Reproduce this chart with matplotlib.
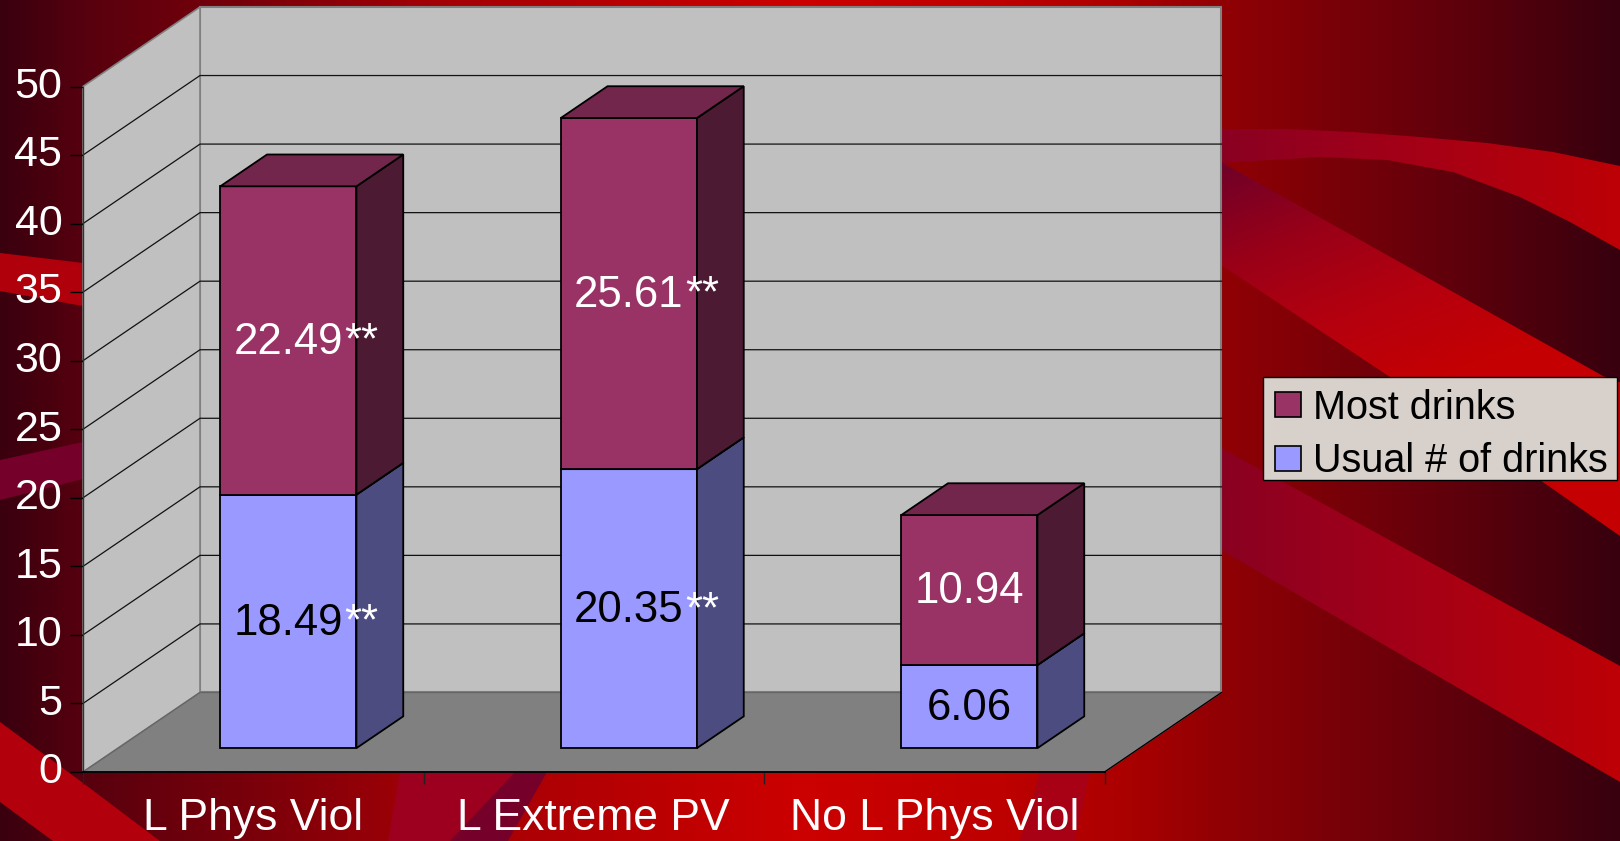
import numpy as np
import matplotlib
matplotlib.use("Agg")
import matplotlib.pyplot as plt
from matplotlib.colors import LinearSegmentedColormap
from matplotlib.patches import Polygon, Patch, Rectangle
from matplotlib.transforms import ScaledTranslation

plt.rcParams['font.family'] = ['Liberation Sans', 'DejaVu Sans']

categories = ["L Phys Viol", "L Extreme PV", "No L Phys Viol"]
usual = [18.49, 20.35, 6.06]
most = [22.49, 25.61, 10.94]
usual_stars = ["**", "**", ""]
most_stars = ["**", "**", ""]
y_ticks = [0, 5, 10, 15, 20, 25, 30, 35, 40, 45, 50]

W, H = 1620, 841
# fake 3d depth of the chart, in data units
DX = 0.3436
DY = 5.8
GAP = 0.3
BAR_W = 0.4
BAR_D = 0.4

MAGENTA = ("#993366", "#4C1A33", "#72264C")
BLUE = ("#9999FF", "#4C4C80", "#72729F")

fig = plt.figure(figsize=(W / 100, H / 100), dpi=100)

# slide background, pixel coordinates
bg = fig.add_axes([0, 0, 1, 1])
bg.set_xlim(0, W)
bg.set_ylim(H, 0)
bg.axis("off")


def ramp(stops):
    return LinearSegmentedColormap.from_list("r", [(p / W, c) for p, c in stops])


def stripe(cmap, clip=None, grad=None):
    if grad is None:
        grad = np.linspace(0, 1, 810).reshape(1, -1)
    im = bg.imshow(grad, cmap=cmap, extent=(0, W, H, 0), aspect="auto", vmin=0, vmax=1)
    if clip is not None:
        p = Polygon(clip, closed=True, transform=bg.transData, fc="none", ec="none")
        bg.add_patch(p)
        im.set_clip_path(p)


stripe(ramp([(0, "#3A000E"), (85, "#58000E"), (250, "#7A000A"), (420, "#A00006"),
             (800, "#CC0000"), (1000, "#BE0000"), (1120, "#AC0000"), (1225, "#900004"),
             (1400, "#6C000A"), (1620, "#38000E")]))

band_cmap = ramp([(0, "#B0000C"), (1225, "#8A0022"), (1400, "#A20018"), (1620, "#BC0006")])

# this band shades across its width as well as along it
px, py = np.meshgrid(np.arange(0, W, 2), np.arange(0, H, 2))
diag = np.clip(((px - 1221) + (py - 165) * 2.5) / 760, 0, 1)
stripe(LinearSegmentedColormap.from_list("d", ["#700028", "#990018", "#B5000F", "#C40002"]),
       [(1221, 162), (1603, 376), (1640, 390), (1640, 550), (1540, 480), (1390, 377), (1221, 265)],
       grad=diag)
stripe(band_cmap,
       [(1221, 129), (1287, 129), (1353, 132), (1420, 137), (1487, 143), (1553, 152), (1620, 166),
        (1620, 250), (1570, 222), (1520, 197), (1453, 172), (1387, 160), (1320, 157), (1221, 163)])
stripe(band_cmap, [(1221, 448), (1620, 666), (1620, 782), (1221, 550)])
bg.set_xlim(0, W)
bg.set_ylim(H, 0)
bg.add_patch(Polygon([(0, 253), (83, 263), (83, 306), (0, 291)], fc="#B0000C", ec="none"))
bg.add_patch(Polygon([(0, 460), (83, 442), (83, 479), (0, 500)], fc="#75002A", ec="none"))
bg.add_patch(Polygon([(0, 722), (83, 783), (160, 841), (53, 841), (0, 802)], fc="#B2000C", ec="none"))
bg.add_patch(Polygon([(400, 772), (388, 841), (450, 841), (515, 772)], fc="#9C001E", ec="none"))
bg.add_patch(Polygon([(515, 772), (450, 841), (508, 841), (547, 772)], fc="#75002A", ec="none"))
bg.add_patch(Polygon([(1040, 772), (1020, 841), (1075, 841), (1090, 772)], fc="#A80014", ec="none"))
# legend box
bg.add_patch(Rectangle((1262.5, 377), 354.5, 103, fc="#D8D0CA", ec="black", lw=1.0))

# chart axes = front plane of the 3d box
ax = fig.add_axes([83 / W, (H - 772) / H, 1021.5 / W, 685.5 / H])
ax.patch.set_visible(False)
ax.set_xlim(0, 3)
ax.set_ylim(0, 50)


def pt(x, y, d):
    return (x + d * DX, y + d * DY)


def face(points, fc, ec="black", lw=1.3, z=3):
    ax.add_patch(Polygon(points, closed=True, fc=fc, ec=ec, lw=lw, zorder=z,
                         clip_on=False, joinstyle="miter"))


# walls and floor
face([pt(0, 0, 1), pt(3, 0, 1), pt(3, 50, 1), pt(0, 50, 1)], "#C0C0C0", "#808080", 1.5, 1)
face([pt(0, 0, 0), pt(0, 0, 1), pt(0, 50, 1), pt(0, 50, 0)], "#C0C0C0", "#808080", 1.2, 1)
face([pt(0, 0, 0), pt(3, 0, 0), pt(3, 0, 1), pt(0, 0, 1)], "#808080", "#666666", 1.0, 1)
ax.plot(*zip(pt(3, 0, 0), pt(3, 0, 1)), color="black", lw=0.9, zorder=1.5, clip_on=False)

for v in y_ticks[1:-1]:
    ax.plot(*zip(pt(0, v, 0), pt(0, v, 1), pt(3, v, 1)), color="#111111", lw=0.9,
            zorder=1.5, clip_on=False)


def stack_bar(i, start, value, colors):
    x0 = i + (1 - BAR_W) / 2 + GAP * DX
    x1 = x0 + BAR_W
    lift = GAP * DY
    y0, y1 = start + lift, start + value + lift
    ax.bar(x0 + BAR_W / 2, value, BAR_W, bottom=y0, color=colors[0], edgecolor="black",
           linewidth=1.3, zorder=3, clip_on=False)
    face([(x1, y0), pt(x1, y0, BAR_D), pt(x1, y1, BAR_D), (x1, y1)], colors[1])
    face([(x0, y1), (x1, y1), pt(x1, y1, BAR_D), pt(x0, y1, BAR_D)], colors[2])
    return x0 + BAR_W / 2, (y0 + y1) / 2


def bar_label(x, y, value, stars, color):
    t = ax.annotate(f"{value:.2f}", xy=(x, y), xytext=(0, 2), textcoords="offset points",
                    color=color, fontsize=31.5, ha="center", va="center_baseline", zorder=5)
    if stars:
        ax.annotate(stars, xy=(1, 0), xycoords=t, xytext=(1, 0), textcoords="offset points",
                    color="white", fontsize=31.5, ha="left", va="bottom", zorder=5)


for i in range(len(categories)):
    xu, yu = stack_bar(i, 0, usual[i], BLUE)
    xm, ym = stack_bar(i, usual[i], most[i], MAGENTA)
    bar_label(xu, yu, usual[i], usual_stars[i], "black")
    bar_label(xm, ym, most[i], most_stars[i], "white")

# axes furniture
for s in ("top", "right"):
    ax.spines[s].set_visible(False)
ax.spines["left"].set_color("#333333")
ax.spines["left"].set_linewidth(1.0)
ax.spines["bottom"].set_color("black")
ax.spines["bottom"].set_linewidth(1.3)
ax.spines["left"].set_zorder(2)
ax.spines["bottom"].set_zorder(2)

ax.set_yticks(y_ticks)
ax.set_yticklabels([str(v) for v in y_ticks], color="white", fontsize=31)
ax.tick_params(axis="y", length=9.4, width=1.0, color="black", pad=5.5)
up = ScaledTranslation(0, 3 / 72, fig.dpi_scale_trans)
for lab in ax.get_yticklabels():
    lab.set_transform(lab.get_transform() + up)
ax.set_xticks([0, 1, 2, 3])
ax.set_xticklabels([])
ax.tick_params(axis="x", which="major", length=8.6, width=1.0, color="#222222")
ax.set_xticks([0.5, 1.5, 2.5], minor=True)
ax.set_xticklabels(categories, minor=True, color="white", fontsize=32)
ax.tick_params(axis="x", which="minor", length=0, pad=19)

# legend, most drinks on top
handles = [Patch(fc=MAGENTA[0], ec="black", lw=1.2), Patch(fc=BLUE[0], ec="black", lw=1.2)]
leg = ax.legend(handles, ["Most drinks", "Usual # of drinks"], loc="lower left",
                bbox_to_anchor=(1264 / W, (H - 491.5) / H), bbox_transform=fig.transFigure,
                fontsize=28.5, frameon=False, borderaxespad=0, borderpad=0.28, handlelength=0.66,
                handleheight=0.62, handletextpad=0.3, labelspacing=0.4)
leg.set_zorder(6)

fig.savefig("out.png", dpi=100)
